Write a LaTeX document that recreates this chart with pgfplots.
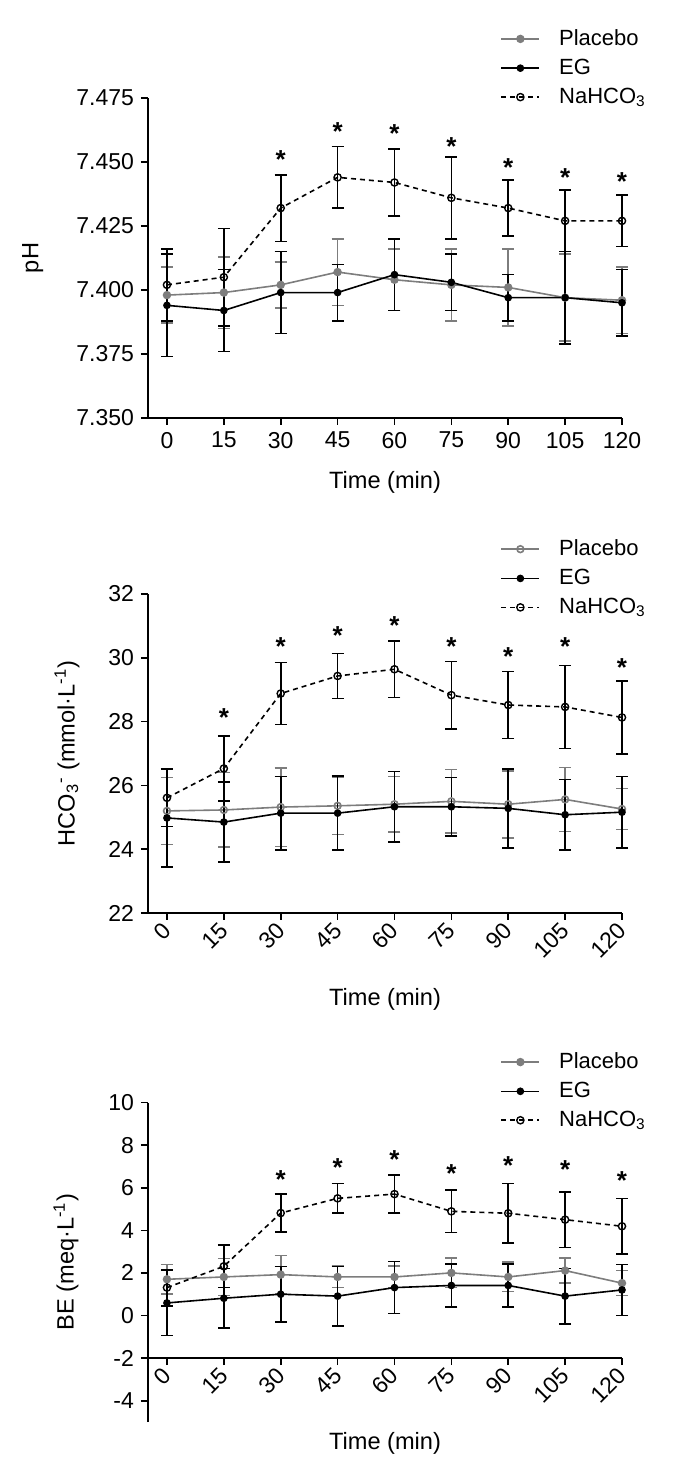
\documentclass[border=0pt]{standalone}
\usepackage{fontspec}
\setmainfont{Liberation Sans}
\usepackage{pgfplots}
\pgfplotsset{compat=1.18}
\usepackage{pgfplotstable}
\definecolor{pgray}{RGB}{125,125,125}

% pH
\pgfplotstableread{
x   p     pe    e     ee    n     ne
0   7.398 0.011 7.394 0.020 7.402 0.014
15  7.399 0.014 7.392 0.016 7.405 0.019
30  7.402 0.009 7.399 0.016 7.432 0.013
45  7.407 0.013 7.399 0.011 7.444 0.012
60  7.404 0.012 7.406 0.014 7.442 0.013
75  7.402 0.014 7.403 0.011 7.436 0.016
90  7.401 0.015 7.397 0.009 7.432 0.011
105 7.397 0.017 7.397 0.018 7.427 0.012
120 7.396 0.013 7.395 0.013 7.427 0.010
}\phtab
\pgfplotstableread{
x   s
30  7.453
45  7.464
60  7.463
75  7.458
90  7.450
105 7.446
120 7.4445
}\phstar

% HCO3
\pgfplotstableread{
x   p     pe    e     ee    n     ne
0   25.20 1.05  24.98 1.54  25.61 0.90
15  25.23 1.17  24.85 1.25  26.53 1.02
30  25.32 1.23  25.13 1.15  28.88 0.97
45  25.36 0.90  25.13 1.16  29.43 0.70
60  25.41 0.87  25.33 1.11  29.64 0.88
75  25.50 1.00  25.33 0.92  28.83 1.06
90  25.41 1.05  25.28 1.24  28.52 1.05
105 25.56 1.00  25.08 1.10  28.46 1.30
120 25.26 0.64  25.16 1.12  28.13 1.14
}\hcotab
\pgfplotstableread{
x   s
15  28.28
30  30.53
45  30.85
60  31.18
75  30.53
90  30.19
105 30.53
120 29.86
}\hcostar

% BE
\pgfplotstableread{
x   p     pe    e     ee    n     ne
0   1.70  0.70  0.59  1.52  1.31  0.85
15  1.81  0.87  0.81  1.40  2.31  1.00
30  1.92  0.90  1.00  1.30  4.81  0.90
45  1.81  0.50  0.91  1.39  5.50  0.70
60  1.81  0.50  1.31  1.22  5.70  0.90
75  2.00  0.69  1.41  1.00  4.89  1.00
90  1.81  0.69  1.41  1.00  4.80  1.40
105 2.11  0.59  0.91  1.30  4.50  1.30
120 1.52  0.59  1.20  1.20  4.19  1.30
}\betab
\pgfplotstableread{
x   s
30  6.61
45  7.19
60  7.58
75  6.89
90  7.30
105 7.08
120 6.58
}\bestar

\newcommand{\labfont}{\fontsize{11.8}{14}\selectfont}
\pgfplotsset{
  myaxis/.style={
    scale only axis, width=237pt, anchor=south west,
    axis lines=left, axis line style={-, line width=0.8pt, black},
    tick align=outside, major tick length=3.5pt,
    tick style={line width=0.8pt, black},
    xmin=-5, xmax=120, xtick={0,15,...,120},
    xticklabels={0,15,30,45,60,75,90,105,120},
    enlargelimits=false, clip=false,
    tick label style={font=\fontsize{11.5}{13}\selectfont},
    legend cell align=left,
    legend style={draw=none, fill=none, font=\fontsize{11}{13}\selectfont,
      anchor=north west, inner sep=0pt, row sep=1.3pt,
      /tikz/every odd column/.append style={column sep=7.5pt}},
    legend image code/.code={\draw[mark repeat=2,mark phase=2,##1] plot coordinates {(0pt,0pt) (9.5pt,0pt) (19pt,0pt)};},
    xlabel={Time (min)},
    every axis y label/.style={rotate=90, anchor=center, font=\labfont},
    every axis x label/.style={anchor=center, font=\labfont},
  },
  rotlab/.style={xticklabel style={rotate=45, anchor=east, yshift=-2.5pt, xshift=1pt}},
  errs/.style={error bars/.cd, y dir=both, y explicit,
     error bar style={line width=0.8pt, #1, solid},
     error mark options={rotate=90, mark size=3pt, line width=0.8pt, #1, solid}},
  plac/.style={pgray, line width=0.8pt, mark=*, mark size=1.7pt,
     mark options={solid, fill=pgray, draw=pgray}, errs=pgray},
  placo/.style={pgray, line width=0.8pt, mark=o, mark size=1.7pt,
     mark options={solid, fill=white, draw=pgray}, errs=pgray},
  egs/.style={black, line width=0.8pt, mark=*, mark size=1.5pt,
     mark options={solid, fill=black}, errs=black},
  nas/.style={black, line width=0.8pt, dash pattern=on 2.5pt off 2pt, mark=o, mark size=1.8pt,
     mark options={solid, fill=white, draw=black, line width=0.7pt}, errs=black},
  stars/.style={only marks, mark=text, text mark as node=true,
     text mark={\fontsize{13}{13}\selectfont\bfseries *},
     text mark style={yshift=-2.6pt, inner sep=0pt}, forget plot},
}

\begin{document}
\begin{tikzpicture}
\useasboundingbox (0,0) rectangle (342.5pt,740pt);

% ---------- pH ----------
\begin{axis}[myaxis, at={(74pt,531pt)}, height=160pt,
  ymin=7.35, ymax=7.475,
  ytick={7.35,7.375,7.4,7.425,7.45,7.475},
  yticklabels={7.350,7.375,7.400,7.425,7.450,7.475},
  ylabel={pH},
  ylabel style={at={(axis description cs:-0.243,0.5)}},
  xlabel style={at={(axis description cs:0.5,-0.2)}},
  legend style={at={(axis description cs:0.743,1.228)}},
]
\addplot[plac] table[x=x, y=p, y error=pe] {\phtab};
\addlegendentry{Placebo}
\addplot[egs] table[x=x, y=e, y error=ee] {\phtab};
\addlegendentry{EG}
\addplot[nas] table[x=x, y=n, y error=ne] {\phtab};
\addlegendentry{NaHCO\textsubscript{3}}
\addplot[stars] table[x=x, y=s] {\phstar};
\end{axis}

% ---------- HCO3 ----------
\begin{axis}[myaxis, rotlab, at={(74pt,283.5pt)}, height=159.5pt,
  ymin=22, ymax=32, ytick={22,24,...,32},
  yticklabels={22,24,26,28,30,32},
  ylabel={HCO\textsubscript{3}\textsuperscript{-} (mmol·L\textsuperscript{-1})},
  ylabel style={at={(axis description cs:-0.171,0.5)}},
  xlabel style={at={(axis description cs:0.5,-0.27)}},
  legend style={at={(axis description cs:0.743,1.184)}},
]
\addplot[placo] table[x=x, y=p, y error=pe] {\hcotab};
\addlegendentry{Placebo}
\addplot[egs] table[x=x, y=e, y error=ee] {\hcotab};
\addlegendentry{EG}
\addplot[nas] table[x=x, y=n, y error=ne] {\hcotab};
\addlegendentry{NaHCO\textsubscript{3}}
\addplot[stars] table[x=x, y=s] {\hcostar};
\end{axis}

% ---------- BE ----------
\begin{axis}[myaxis, rotlab, at={(74pt,29pt)}, height=159.75pt,
  ymin=-5, ymax=10, ytick={-4,-2,...,10},
  yticklabels={-4,-2,0,2,4,6,8,10},
  axis x line shift=-31.95pt,
  ylabel={BE (meq·L\textsuperscript{-1})},
  ylabel style={at={(axis description cs:-0.173,0.5)}},
  xlabel style={at={(axis description cs:0.5,-0.066)}},
  legend style={at={(axis description cs:0.743,1.17)}},
]
\addplot[plac] table[x=x, y=p, y error=pe] {\betab};
\addlegendentry{Placebo}
\addplot[egs] table[x=x, y=e, y error=ee] {\betab};
\addlegendentry{EG}
\addplot[nas] table[x=x, y=n, y error=ne] {\betab};
\addlegendentry{NaHCO\textsubscript{3}}
\addplot[stars] table[x=x, y=s] {\bestar};
\end{axis}
\end{tikzpicture}
\end{document}
